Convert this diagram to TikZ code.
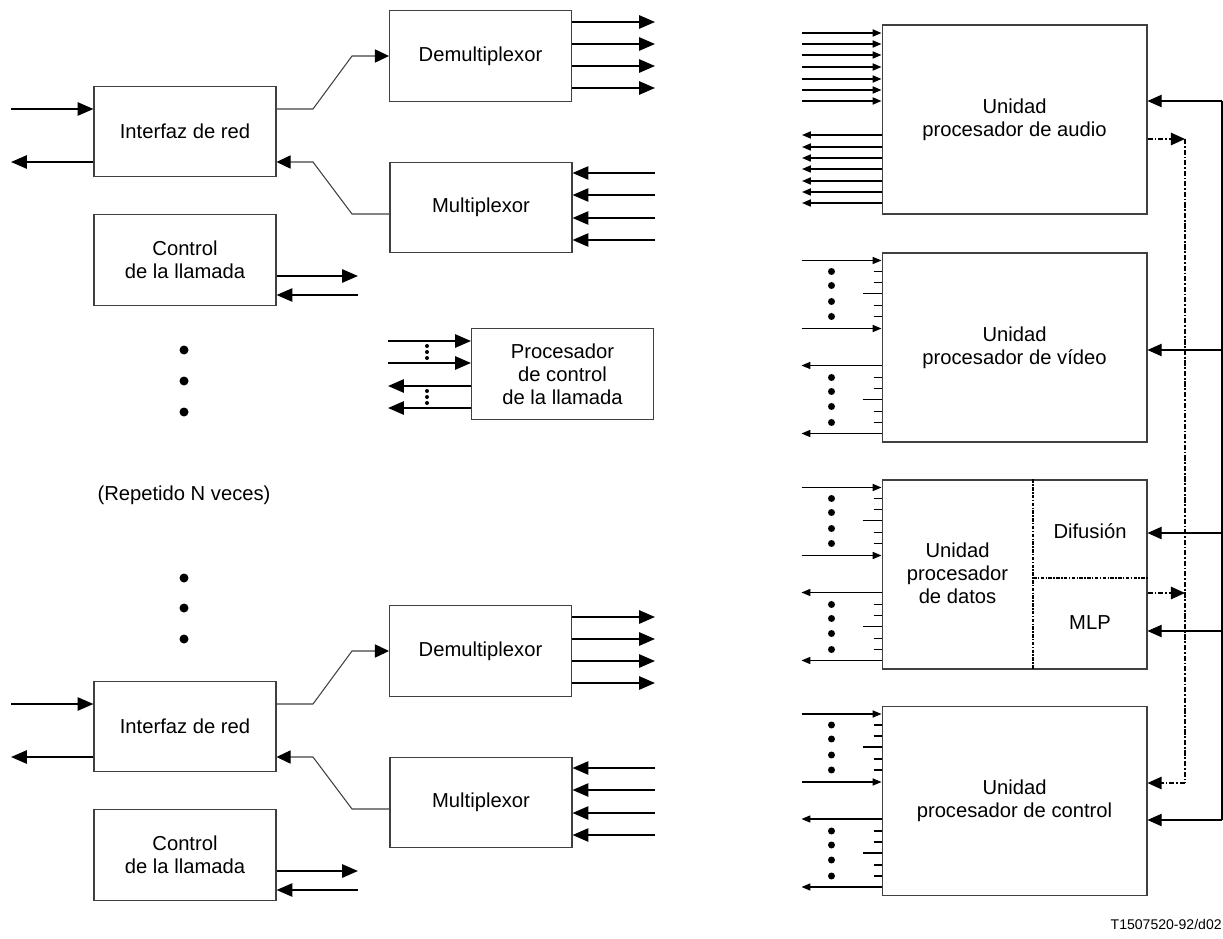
\documentclass[tikz,border=0pt]{standalone}
\usepackage{fontspec}
\setmainfont{Liberation Sans}
\usetikzlibrary{arrows.meta}

\begin{document}
\begin{tikzpicture}[x=0.02cm, y=-0.02cm,
    every node/.style={font=\fontsize{11.5}{13}\selectfont, align=center, inner sep=0pt},
    blk/.style={draw=black!75, line width=0.6pt, minimum width=3.64cm, minimum height=1.81cm},
    unit/.style={draw=black!75, line width=0.6pt, minimum width=5.3cm, minimum height=3.78cm},
    bigarr/.style={line width=1.1pt, -{Triangle[length=9pt, width=7.5pt]}},
    thinarr/.style={line width=0.6pt, draw=black!75, -{Triangle[length=8pt, width=7.5pt, color=black]}},
    smlarr/.style={line width=0.85pt, -{Triangle[length=5pt, width=4pt]}},
    busarr/.style={line width=0.6pt, -{Triangle[length=8pt, width=7pt]}},
    dotbus/.style={line width=1pt, dash pattern=on 3pt off 1pt on 1pt off 1pt},
    divl/.style={line width=0.8pt, dash pattern=on 2pt off 0.8pt on 0.8pt off 0.8pt},
    wire/.style={line width=0.6pt, draw=black!75},
    tickl/.style={line width=0.7pt},
    bigdot/.style={circle, fill, minimum size=0.18cm},
    smldot/.style={circle, fill, minimum size=0.14cm},
    tinydot/.style={circle, fill, minimum size=0.08cm}]

  \useasboundingbox (0,0) rectangle (1223,939);

  % terminal groups (repeated N times)
  \foreach \dy/\g in {0/a, 595/b} {
    \begin{scope}[shift={(0,\dy)}]
      \node[blk] (red\g) at (185,131.5) {Interfaz de red};
      \node[blk] (llam\g) at (185,260) {Control\\de la llamada};
      \node[blk] (demux\g) at (480.5,56) {Demultiplexor};
      \node[blk] (mux\g) at (481,207.5) {Multiplexor};

      \draw[bigarr] (11,109) -- (red\g.west |- 0,109);
      \draw[bigarr] (red\g.west |- 0,162) -- (11,162);
      \draw[wire, thinarr] (red\g.east |- 0,109) -- (313,109) -- (352,56) -- (demux\g.west);
      \draw[wire, thinarr] (mux\g.west |- 0,214) -- (352,214) -- (313,162) -- (red\g.east |- 0,162);
      \foreach \y in {22,44,66,88}
        \draw[bigarr] (demux\g.east |- 0,\y) -- (655,\y);
      \foreach \y in {173,195,218,240}
        \draw[bigarr] (655,\y) -- (mux\g.east |- 0,\y);
      \draw[bigarr] (llam\g.east |- 0,276) -- (358,276);
      \draw[bigarr] (358,295) -- (llam\g.east |- 0,295);
    \end{scope}
  }

  \foreach \y in {350,381,412,578,608,639}
    \node[bigdot] at (184,\y) {};
  \node[anchor=base] at (184,500) {(Repetido N veces)};

  % call control processor
  \node[blk] (pcl) at (562.5,374) {Procesador\\de control\\de la llamada};
  \foreach \y in {341,363}
    \draw[bigarr] (388,\y) -- (pcl.west |- 0,\y);
  \foreach \y in {386,408}
    \draw[bigarr] (pcl.west |- 0,\y) -- (388,\y);
  \foreach \y in {346,352,358,391,397,403}
    \node[tinydot] at (427,\y) {};

  % processing units
  \node[unit] (audio) at (1014.5,119.5) {Unidad\\procesador de audio};
  \node[unit] (video) at (1014.5,347.5) {Unidad\\procesador de vídeo};
  \node[unit] (datos) at (1014.5,574.5) {};
  \node[unit] (ctrl) at (1014.5,801) {Unidad\\procesador de control};

  \node at (957.5,573) {Unidad\\procesador\\de datos};
  \node[anchor=base] at (1090,538) {Difusión};
  \node[anchor=base] at (1090,629) {MLP};
  \draw[divl] (datos.north -| 1033,0) -- (datos.south -| 1033,0);
  \draw[divl] (1033,578) -- (datos.east |- 0,578);

  \foreach \y in {33,44,55,67,79,90,101}
    \draw[smlarr] (802,\y) -- (audio.west |- 0,\y);
  \foreach \y in {135,147,158,169,181,192,203}
    \draw[smlarr] (audio.west |- 0,\y) -- (802,\y);

  \foreach \u in {video,datos,ctrl} {
    \foreach \d in {8,76}
      \draw[smlarr, line width=0.7pt] (\u.north west) ++(-80,\d) -- ++(80,0);
    \foreach \d in {113,181}
      \draw[smlarr, line width=0.7pt] (\u.north west) ++(0,\d) -- ++(-80,0);
    \foreach \d in {19,30,53,64,125,136,159,170}
      \draw[tickl] (\u.north west) ++(-8,\d) -- ++(8,0);
    \foreach \d in {41,147}
      \draw[tickl] (\u.north west) ++(-19,\d) -- ++(19,0);
    \foreach \d in {19,33,49,64,125,139,154,170}
      \path (\u.north west) ++(-50,\d) node[smldot] {};
  }

  % right-hand buses
  \draw[wire, draw=black] (1222,101) -- (1222,820);
  \foreach \y/\n in {101/audio, 350/video, 533/datos, 631/datos, 820/ctrl}
    \draw[busarr] (1222,\y) -- (\n.east |- 0,\y);
  \draw[dotbus] (1185,139) -- (1185,783);
  \draw[dotbus, busarr, line width=1pt] (audio.east |- 0,139) -- (1185,139);
  \draw[dotbus, busarr, line width=1pt] (datos.east |- 0,593) -- (1185,593);
  \draw[dotbus, busarr, line width=1pt] (1185,783) -- (ctrl.east |- 0,783);

  \node[font=\fontsize{8}{9}\selectfont, anchor=base east] at (1222,929) {T1507520-92/d02};
\end{tikzpicture}
\end{document}
